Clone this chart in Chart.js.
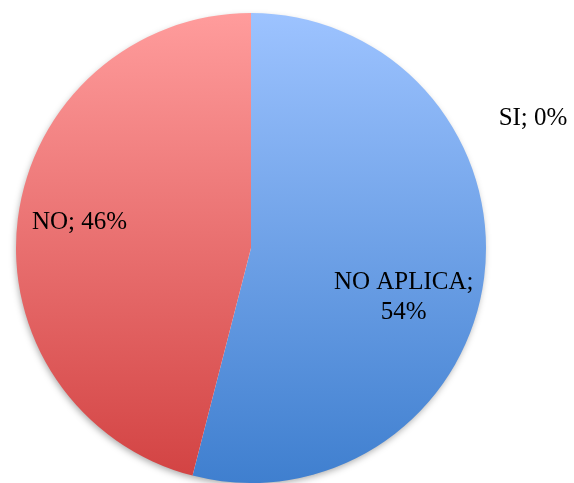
<!DOCTYPE html>
<html>
<head>
<meta charset="utf-8">
<script src="https://cdn.jsdelivr.net/npm/chart.js@4/dist/chart.umd.min.js"></script>
<style>
  html, body { margin: 0; padding: 0; background: #fff; }
  #box { width: 574px; height: 483px; }
</style>
</head>
<body>
<div id="box"><canvas id="grafico"></canvas></div>
<script>
const categorias = ['SI', 'NO APLICA', 'NO'];
const porcentajes = [0, 54, 46];

// colores de arriba a abajo para cada porción
const coloresArriba = ['#9DC3FF', '#9DC3FF', '#FF9C9C'];
const coloresAbajo = ['#3F7FCF', '#3F7FCF', '#D24242'];

// posicion de cada etiqueta, en fracciones del radio desde el centro
const posEtiquetas = [
    { x: 1.20, y: -0.55, lineas: (c, v) => [`${c}; ${v}%`] },
    { x: 0.65, y: 0.21, lineas: (c, v) => [`${c};`, `${v}%`] },
    { x: -0.73, y: -0.11, lineas: (c, v) => [`${c}; ${v}%`] }
];

function crearGradiente(chart, i) {
    const area = chart.chartArea;
    if (!area) return coloresAbajo[i];
    const g = chart.ctx.createLinearGradient(0, area.top, 0, area.bottom);
    g.addColorStop(0, coloresArriba[i]);
    g.addColorStop(1, coloresAbajo[i]);
    return g;
}

const sombraPie = {
    id: 'sombraPie',
    beforeDatasetsDraw(chart) {
        const arc = chart.getDatasetMeta(0).data[0];
        if (!arc) return;
        const ctx = chart.ctx;
        ctx.save();
        ctx.shadowColor = 'rgba(0,0,0,0.35)';
        ctx.shadowBlur = 7;
        ctx.shadowOffsetX = -1;
        ctx.shadowOffsetY = 3;
        ctx.fillStyle = '#ffffff';
        ctx.beginPath();
        ctx.arc(arc.x, arc.y, arc.outerRadius - 1, 0, Math.PI * 2);
        ctx.fill();
        ctx.restore();
    }
};

const etiquetas = {
    id: 'etiquetas',
    afterDatasetsDraw(chart) {
        const arc = chart.getDatasetMeta(0).data[0];
        if (!arc) return;
        const ctx = chart.ctx;
        const r = arc.outerRadius;
        ctx.save();
        ctx.font = '25px "Liberation Serif", "DejaVu Serif", serif';
        ctx.fillStyle = '#000000';
        ctx.textAlign = 'center';
        ctx.textBaseline = 'middle';
        categorias.forEach((cat, i) => {
            const p = posEtiquetas[i];
            const lineas = p.lineas(cat, porcentajes[i]);
            const cx = arc.x + p.x * r;
            const cy = arc.y + p.y * r;
            const alto = 30;
            lineas.forEach((t, k) => {
                ctx.fillText(t, cx, cy + (k - (lineas.length - 1) / 2) * alto);
            });
        });
        ctx.restore();
    }
};

new Chart(document.getElementById('grafico'), {
    type: 'pie',
    data: {
        labels: categorias,
        datasets: [{
            data: porcentajes,
            backgroundColor: (c) => crearGradiente(c.chart, c.dataIndex),
            borderWidth: 0
        }]
    },
    options: {
        responsive: true,
        maintainAspectRatio: false,
        animation: false,
        layout: { padding: { left: 16, right: 88, top: 13, bottom: 0 } },
        plugins: {
            legend: { display: false },
            tooltip: { enabled: false }
        }
    },
    plugins: [sombraPie, etiquetas]
});
</script>
</body>
</html>
